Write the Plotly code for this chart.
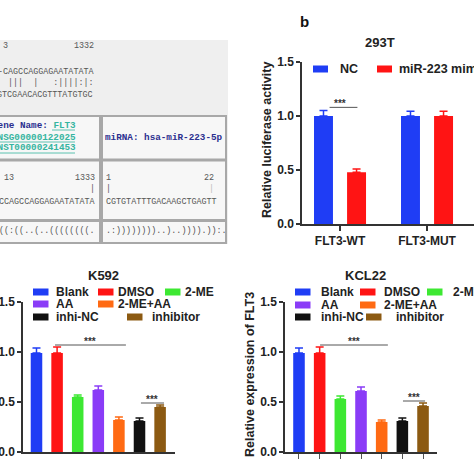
import plotly.graph_objects as go

W = H = 474
def px(x): return x / W
def py(y): return 1 - y / H

# ---------------- data ----------------
luc_cats = ["FLT3-WT", "FLT3-MUT"]
luc_nc = [1.00, 1.00]
luc_nc_err = [0.05, 0.045]
luc_mimic = [0.48, 1.00]
luc_mimic_err = [0.03, 0.045]

groups = ["Blank", "DMSO", "2-ME", "AA", "2-ME+AA", "inhi-NC", "inhibitor"]
k592_vals = [0.99, 0.99, 0.55, 0.62, 0.32, 0.31, 0.45]
k592_err = [0.05, 0.06, 0.02, 0.04, 0.03, 0.03, 0.02]
kcl22_vals = [0.99, 0.99, 0.53, 0.61, 0.30, 0.31, 0.46]
kcl22_err = [0.05, 0.06, 0.03, 0.04, 0.02, 0.03, 0.03]

y_ticks = [0, 0.5, 1.0, 1.5]
y_ticktext = ["0.0", "0.5", "1.0", "1.5"]

colors = ["#1f3df5", "#ff1414", "#3de832", "#8a3cf7", "#ff6a13", "#111111", "#8c5a12"]
BLUE, RED = "#1f3df5", "#ff1414"

FONT = "Liberation Sans"
MONO = "Liberation Mono"

fig = go.Figure()

# ---------------- panel b: 293T ----------------
bw = 0.218
for vals, errs, col, off, name in [(luc_nc, luc_nc_err, BLUE, -0.299, "NC"),
                                   (luc_mimic, luc_mimic_err, RED, 0.081, "miR-223 mimic")]:
    fig.add_trace(go.Bar(x=luc_cats, y=vals, width=bw, offset=off, marker_color=col,
                         marker_line_width=0, name=name, showlegend=False,
                         error_y=dict(type="data", array=errs, arrayminus=[0] * len(errs),
                                      symmetric=False, color=col, thickness=1.5, width=4),
                         xaxis="x", yaxis="y"))

# ---------------- panels c / d ----------------
def add_group(vals, errs, xa, ya):
    for i, g in enumerate(groups):
        fig.add_trace(go.Bar(x=[i], y=[vals[i]], width=0.56, marker_color=colors[i],
                             marker_line_width=0, name=g, showlegend=False,
                             error_y=dict(type="data", array=[errs[i]], arrayminus=[0],
                                          symmetric=False, color=colors[i], thickness=1.5, width=4),
                             xaxis=xa, yaxis=ya))

add_group(k592_vals, k592_err, "x3", "y3")
add_group(kcl22_vals, kcl22_err, "x2", "y2")

tickfont = dict(family=FONT, size=12, color="#222", weight="bold")
yax = dict(range=[0, 1.5], tickvals=y_ticks, ticktext=y_ticktext, showline=True,
           linecolor="#333", linewidth=1.5, ticks="outside", ticklen=4, tickwidth=1.5,
           tickcolor="#333", showgrid=False, zeroline=False, tickfont=tickfont,
           automargin=False)

fig.update_layout(
    width=W, height=H, margin=dict(l=0, r=0, t=0, b=0, autoexpand=False),
    paper_bgcolor="white", plot_bgcolor="rgba(0,0,0,0)",
    barmode="overlay", showlegend=False,
    xaxis=dict(domain=[px(302), 1.0], range=[-0.437, 1.54], type="category",
               categoryarray=luc_cats, showline=True, linecolor="#333", linewidth=1.5,
               ticks="outside", ticklen=5, tickwidth=1.5, tickcolor="#333",
               showgrid=False, zeroline=False, tickfont=tickfont, automargin=False),
    yaxis=dict(domain=[py(224), py(62)], **yax),
    xaxis2=dict(domain=[px(285), px(437)], range=[-0.677, 6.676], tickvals=list(range(len(groups))),
                showticklabels=False, showline=True, linecolor="#333", linewidth=1.5,
                ticks="outside", ticklen=5, tickwidth=1.2, tickcolor="#555",
                showgrid=False, zeroline=False, automargin=False),
    yaxis2=dict(domain=[py(452), py(302)], anchor="x2", **yax),
    xaxis3=dict(domain=[px(23), px(175)], range=[-0.655, 6.723], tickvals=list(range(len(groups))),
                showticklabels=False, showline=True, linecolor="#333", linewidth=1.5,
                ticks="", showgrid=False, zeroline=False, automargin=False),
    yaxis3=dict(domain=[py(452), py(302)], anchor="x3", **yax),
)
fig.layout.yaxis.anchor = "x"
fig.layout.xaxis2.anchor = "y2"
fig.layout.xaxis3.anchor = "y3"

shapes = []
ann = []

def text(x, y, s, size=12, color="#222", family=FONT, bold=True, xanchor="left", angle=0):
    ann.append(dict(x=px(x), y=py(y), xref="paper", yref="paper", text=s, showarrow=False,
                    xanchor=xanchor, yanchor="middle", textangle=angle,
                    font=dict(family=family, size=size, color=color, weight="bold" if bold else "normal")))

def rect(x0, y0, x1, y1, fill, line=None, lw=0):
    shapes.append(dict(type="rect", xref="paper", yref="paper", x0=px(x0), x1=px(x1),
                       y0=py(y1), y1=py(y0), fillcolor=fill,
                       line=dict(color=line or fill, width=lw), layer="below"))

# ---------------- panel a: target-site table ----------------
rect(-4, 40, 228, 244, "#efefef")
for (y0, y1) in [(116, 159.5), (160.5, 220), (221, 243)]:
    rect(-4, y0, 100, y1, "#f7f7f7", "#a8a8a8", 2)
    rect(102, y0, 226, y1, "#f7f7f7", "#a8a8a8", 2)

GREY = "#555"
text(1, 46, "3", 8.4, GREY, MONO, False)
text(96, 46, "1332", 8.4, GREY, MONO, False, "right")
text(96, 72, "-CAGCCAGGAGAATATATA", 8.4, GREY, MONO, False, "right")
text(96, 83, "  |||  |   :||||:|:", 8.4, GREY, MONO, False, "right")
text(95, 95, "AGTCGAACACGTTTATGTGC", 8.4, GREY, MONO, False, "right")

NAVY, TEAL = "#2b2f8f", "#35b5a0"
ann.append(dict(x=px(-10), y=py(125), xref="paper", yref="paper", showarrow=False,
                xanchor="left", yanchor="middle",
                text="Gene Name: <span style='color:%s'>FLT3</span>" % TEAL,
                font=dict(family=MONO, size=9.3, color=NAVY, weight="bold")))
text(-10, 137, "ENSG00000122025", 9.3, TEAL, MONO, True)
text(-10, 148, "ENST00000241453", 9.3, TEAL, MONO, True)
for (x0, x1, y) in [(52, 75, 130), (-2, 75, 142), (-2, 75, 153)]:
    shapes.append(dict(type="line", xref="paper", yref="paper", x0=px(x0), x1=px(x1),
                       y0=py(y), y1=py(y), line=dict(color=TEAL, width=0.8)))
text(164, 137, "miRNA: hsa-miR-223-5p", 9.3, NAVY, MONO, True, "center")

text(2, 178, "13", 8.4, GREY, MONO, False)
text(97, 178, "1333", 8.4, GREY, MONO, False, "right")
text(97, 189, "|", 8.4, GREY, MONO, False, "right")
text(97, 202, "CCAGCCAGGAGAATATATA", 8.4, GREY, MONO, False, "right")
text(104, 178, "1", 8.4, GREY, MONO, False)
text(216, 178, "22", 8.4, GREY, MONO, False, "right")
text(104, 189, "|", 8.4, GREY, MONO, False)
text(216, 189, "|", 8.4, "#bbb", MONO, False, "right")
text(104, 202, "CGTGTATTTGACAAGCTGAGTT", 8.4, GREY, MONO, False)
text(97, 231, "((:((..(..((((((((.", 8.4, GREY, MONO, False, "right")
text(104, 231, ".:))))))))..)..)))).)):.", 8.4, GREY, MONO, False)

# ---------------- panel b decorations ----------------
text(298, 21, "b", 15, "#111")
text(380, 42, "293T", 13, "#222", xanchor="center")
text(267, 140, "Relative luciferase activity", 12.5, "#222", xanchor="center", angle=-90)
rect(313, 65.5, 328, 72.5, BLUE)
text(338, 69, "NC", 12.5)
rect(377, 65.5, 392, 72.5, RED)
text(397, 69, "miR-223 mimic", 12.5)
ysig = max(luc_nc[0] + luc_nc_err[0], luc_mimic[0] + luc_mimic_err[0]) + 0.03
shapes.append(dict(type="line", xref="x", yref="y", x0=-0.12, x1=0.2, y0=ysig, y1=ysig,
                   line=dict(color="#555", width=1)))
ann.append(dict(x=0, y=ysig, xref="x", yref="y", text="***", showarrow=False, yanchor="bottom",
                yshift=-4, font=dict(family=FONT, size=10, color="#333", weight="bold")))

# ---------------- panels c/d decorations ----------------
def legend(x_cols, ys, text_dx):
    layout = [[0, 1, 2], [3, 4], [5, 6]]
    for r, row in enumerate(layout):
        for c, gi in enumerate(row):
            x0 = x_cols[r][c]
            rect(x0, ys[r] - 3.5, x0 + 15.5, ys[r] + 3.5, colors[gi])
            text(x0 + text_dx[r][c], ys[r], groups[gi], 12)

legend([[33, 98, 165], [33, 98], [33, 127]], [292, 304, 317],
       [[21, 18, 18], [21, 18], [21, 23]])
legend([[295, 360, 427], [295, 360], [295, 366]], [292, 305, 317],
       [[24, 22, 24], [24, 22], [24, 28]])
text(103, 275, "K592", 13, "#222", xanchor="center")
text(365, 275, "KCL22", 13, "#222", xanchor="center")
text(250, 375, "Relative expression of FLT3", 12.5, "#222", xanchor="center", angle=-90)

def sig(vals, errs, xr, yr, a, b, pad):
    y = max(v + e for v, e in zip(vals[a[0]:a[1] + 1], errs[a[0]:a[1] + 1])) + pad
    shapes.append(dict(type="line", xref=xr, yref=yr, x0=b[0], x1=b[1], y0=y, y1=y,
                       line=dict(color="#555", width=1)))
    ann.append(dict(x=(b[0] + b[1]) / 2, y=y, xref=xr, yref=yr, text="***", showarrow=False,
                    yanchor="bottom", yshift=-4,
                    font=dict(family=FONT, size=10, color="#333", weight="bold")))

sig(k592_vals, k592_err, "x3", "y3", (1, 4), (0.9, 4.34), 0.02)
sig(k592_vals, k592_err, "x3", "y3", (5, 6), (5.07, 6.19), 0.02)
sig(kcl22_vals, kcl22_err, "x2", "y2", (1, 4), (1.02, 4.3), 0.02)
sig(kcl22_vals, kcl22_err, "x2", "y2", (5, 6), (5.03, 6.1), 0.02)

fig.update_layout(shapes=shapes, annotations=ann)
fig.write_html("out.html", config={"displayModeBar": False},
               post_script="document.body.style.margin='0';document.body.style.overflow='hidden';")
